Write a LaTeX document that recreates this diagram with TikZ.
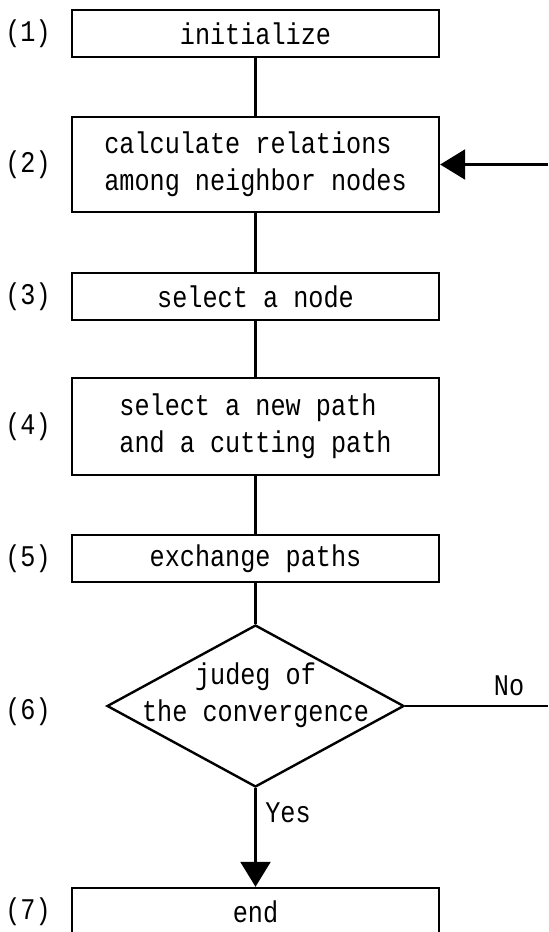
\documentclass[tikz,border=0pt]{standalone}
\usepackage{fontspec}
\setmainfont[FakeStretch=0.84]{Liberation Mono}
\usepackage{tikz}
\usetikzlibrary{arrows.meta,positioning,shapes.geometric}

\begin{document}
\begin{tikzpicture}
[x=0.5pt,y=-0.5pt,line width=1.2pt,font=\fontsize{15}{18.5}\selectfont,
box/.style={draw,rectangle,minimum width=183.5pt,inner sep=0pt,align=left},
dec/.style={draw,diamond,minimum width=148.5pt,minimum height=81pt,inner sep=0pt},
tip/.style={-{Triangle[length=12.5pt,width=15pt]}}]
\useasboundingbox (0,0) rectangle (548,932);
\node[box,minimum height=23.5pt] (init) at (255.5,33.5) {initialize};
\node[box,minimum height=47.5pt] (calc) at (255.5,164.5) {calculate relations\\among neighbor nodes};
\node[box,minimum height=23.5pt] (sel) at (255.5,296.5) {select a node};
\node[box,minimum height=48.5pt] (path) at (255.5,426.5) {select a new path\\and a cutting path};
\node[box,minimum height=23.5pt] (exch) at (255.5,558.5) {exchange paths};
\node[dec] (judge) at (255.5,706) {};
\node[align=center] (jtext) at (255.5,695) {judeg of\\the convergence};
\node[box,minimum height=23.5pt] (fin) at (255.5,911.5) {end};
\node (l1) at (28,33.5) {(1)};
\node (l2) at (28,164.5) {(2)};
\node (l3) at (28,296.5) {(3)};
\node (l4) at (28,426.5) {(4)};
\node (l5) at (28,558.5) {(5)};
\node (l6) at (28,712) {(6)};
\node (l7) at (28,911.5) {(7)};
\coordinate (back) at (548,164.5);
\coordinate (no) at (548,706);
\node (nolab) at (509,686) {No};
\node (yeslab) at (288,813) {Yes};
\draw (init) -- (calc);
\draw (calc) -- (sel);
\draw (sel) -- (path);
\draw (path) -- (exch);
\draw (exch) -- (judge.north);
\draw (judge.east) -- (no);
\draw[tip] (judge.south) -- (fin.north);
\draw[tip] (back) -- (calc.east);
\end{tikzpicture}
\end{document}
